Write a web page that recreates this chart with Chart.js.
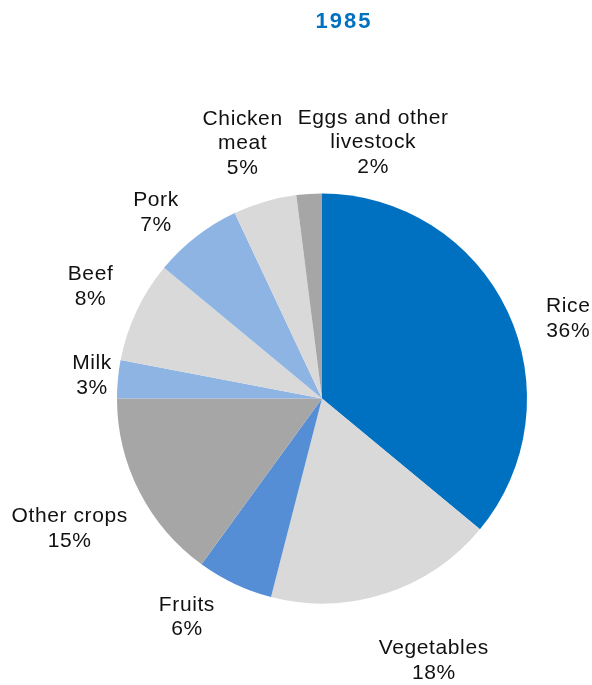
<!DOCTYPE html>
<html>
<head>
<meta charset="utf-8">
<script src="https://cdn.jsdelivr.net/npm/chart.js@4/dist/chart.umd.min.js"></script>
<style>
html,body{margin:0;padding:0;background:#fff;}
#c{display:block;}
</style>
</head>
<body>
<canvas id="c" width="592" height="685"></canvas>
<script>
const chartTitle = "1985";
const categories = ["Rice", "Vegetables", "Fruits", "Other crops", "Milk", "Beef", "Pork", "Chicken meat", "Eggs and other livestock"];
const labelLines = [["Rice"], ["Vegetables"], ["Fruits"], ["Other crops"], ["Milk"], ["Beef"], ["Pork"], ["Chicken", "meat"], ["Eggs and other", "livestock"]];
const shares = [36, 18, 6, 15, 3, 8, 7, 5, 2];
const sliceColors = ["#0070C0", "#D9D9D9", "#558ED5", "#A6A6A6", "#8EB4E3", "#D9D9D9", "#8EB4E3", "#D9D9D9", "#A6A6A6"];

// label placement relative to each arc: angle shift (deg) and distance in outer radii
const labelAngleShift = [7.2, -5.1, 6.5, -0.3, 0.3, 0.6, -4, -1.1, 14.9];
const labelRadiusFactor = [1.263, 1.39, 1.254, 1.385, 1.127, 1.254, 1.215, 1.302, 1.273];

const labelPlugin = {
  id: 'outsideLabels',
  afterDatasetsDraw(chart) {
    const ctx = chart.ctx;
    const meta = chart.getDatasetMeta(0);
    const total = shares.reduce((a, b) => a + b, 0);
    ctx.save();
    ctx.font = '21px "Liberation Sans", Arial, sans-serif';
    ctx.fillStyle = '#111';
    ctx.textAlign = 'center';
    ctx.textBaseline = 'middle';
    if ('letterSpacing' in ctx) ctx.letterSpacing = '0.6px';
    const lh = 24.5;
    meta.data.forEach((arc, i) => {
      const p = arc.getProps(['x', 'y', 'startAngle', 'endAngle', 'outerRadius'], true);
      const a = (p.startAngle + p.endAngle) / 2 + labelAngleShift[i] * Math.PI / 180;
      const r = p.outerRadius * labelRadiusFactor[i];
      const cx = p.x + Math.cos(a) * r;
      const cy = p.y + Math.sin(a) * r;
      const lines = labelLines[i].concat([Math.round(shares[i] / total * 100) + '%']);
      const y0 = cy - (lines.length - 1) * lh / 2;
      lines.forEach((t, j) => ctx.fillText(t, cx, y0 + j * lh));
    });
    // title
    ctx.font = 'bold 22px "Liberation Sans", Arial, sans-serif';
    if ('letterSpacing' in ctx) ctx.letterSpacing = '2px';
    ctx.fillStyle = '#0070C0';
    ctx.fillText(chartTitle, meta.data[0].x + 22, 22);
    ctx.restore();
  }
};

new Chart(document.getElementById('c'), {
  type: 'pie',
  data: {
    labels: categories,
    datasets: [{
      data: shares,
      backgroundColor: sliceColors,
      borderWidth: 0,
      hoverOffset: 0
    }]
  },
  options: {
    responsive: false,
    animation: false,
    layout: { padding: { top: 193, bottom: 81, left: 117, right: 65 } },
    plugins: {
      legend: { display: false },
      tooltip: { enabled: false },
      title: { display: false }
    }
  },
  plugins: [labelPlugin]
});
</script>
</body>
</html>
